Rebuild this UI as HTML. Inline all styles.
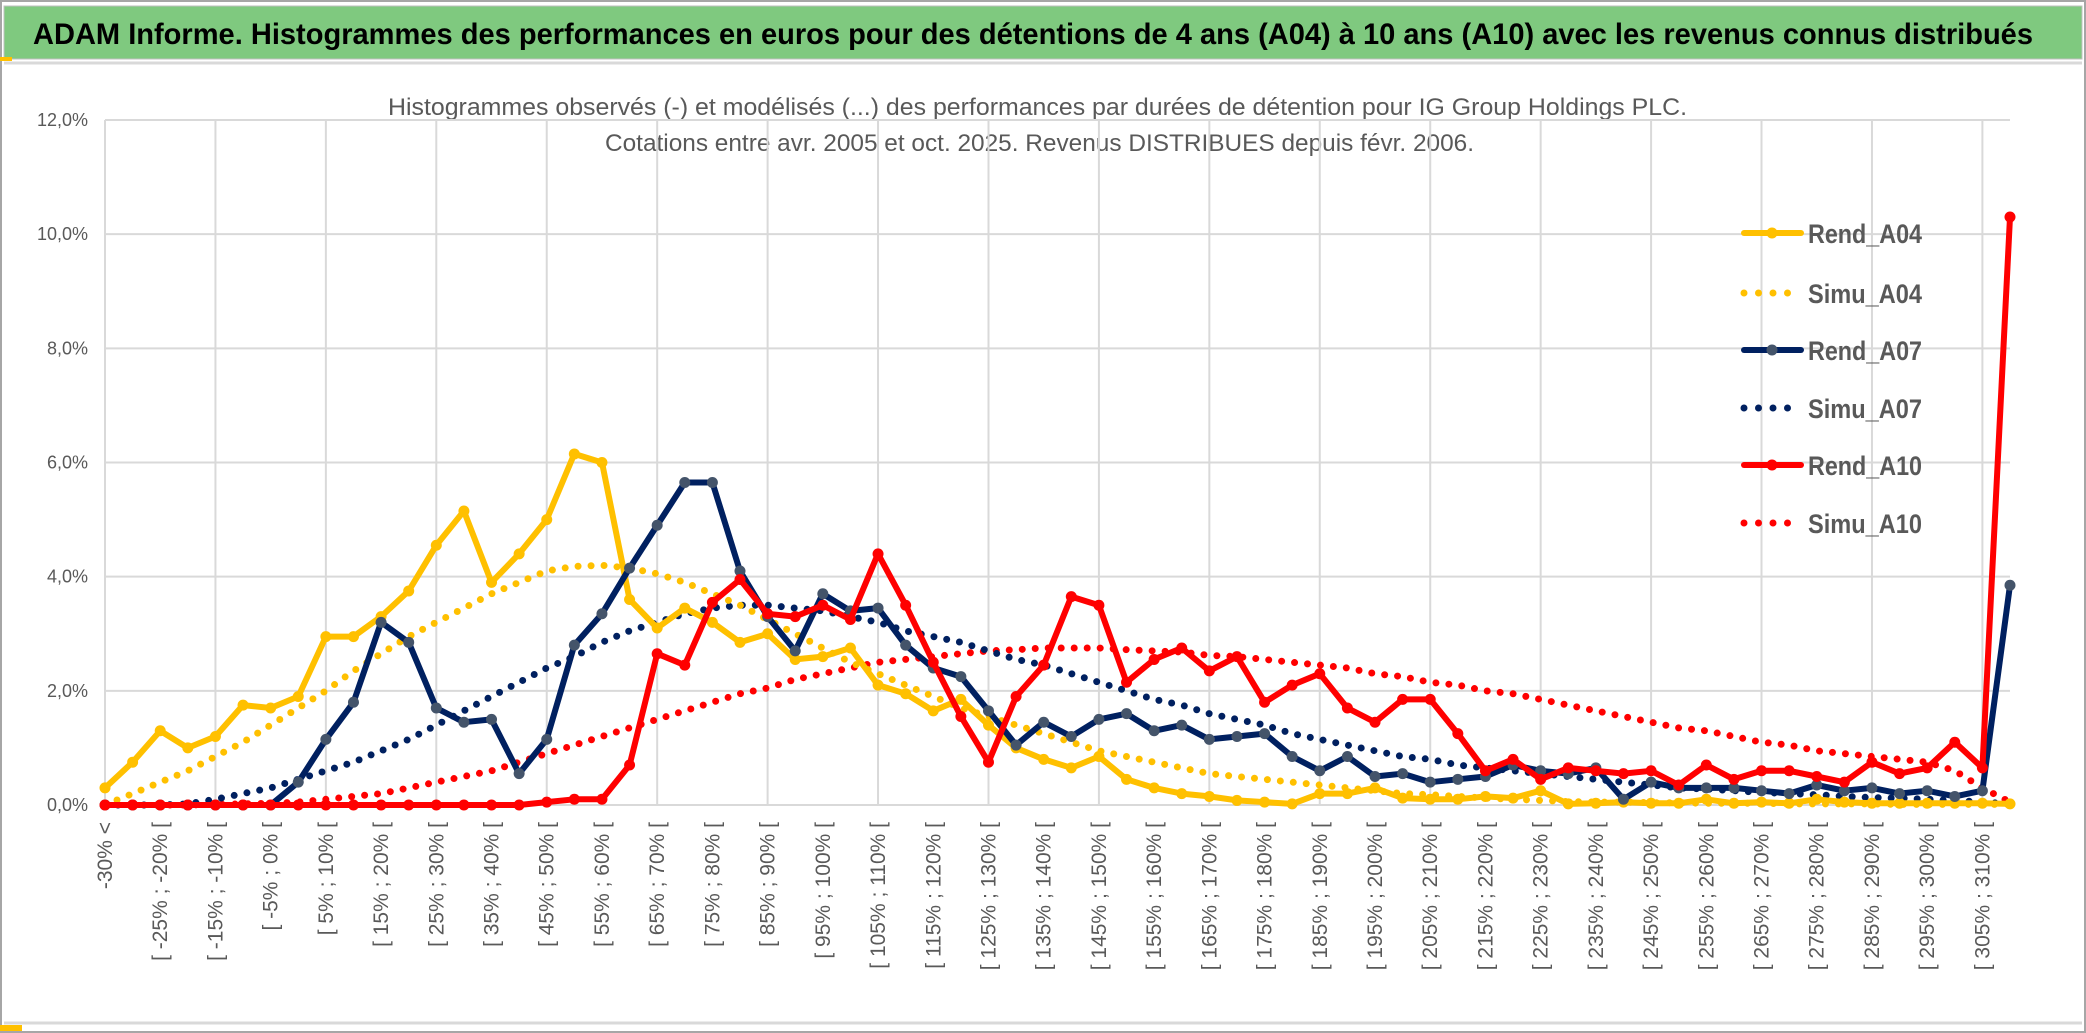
<!DOCTYPE html>
<html><head><meta charset="utf-8"><style>
html,body{margin:0;padding:0;background:#fff;}
svg{display:block;}
</style></head><body>
<svg id="chart" width="2086" height="1033" viewBox="0 0 2086 1033" xmlns="http://www.w3.org/2000/svg" font-family="'Liberation Sans', sans-serif">
  <rect x="0" y="0" width="2086" height="1033" fill="#fff"/>
  <rect x="1" y="1" width="2084" height="1031" fill="none" stroke="#a6a6a6" stroke-width="2"/>
  <rect x="4" y="6" width="2078" height="53" fill="#7fc97f" stroke="#bfbfbf" stroke-width="1"/>
  <rect x="0" y="57" width="12" height="4" fill="#ffc000"/>
  <line x1="4" y1="63" x2="2082" y2="63" stroke="#d9d9d9" stroke-width="3"/>
  <text x="33" y="44" font-size="30" font-weight="bold" fill="#000" textLength="2000" lengthAdjust="spacingAndGlyphs">ADAM Informe. Histogrammes des performances en euros pour des détentions de 4 ans (A04) à 10 ans (A10) avec les revenus connus distribués</text>
  <text x="388" y="115" font-size="24" fill="#595959" textLength="1299" lengthAdjust="spacingAndGlyphs">Histogrammes observés (-) et modélisés (...) des performances par durées de détention pour IG Group Holdings PLC.</text>
  <text x="605" y="151" font-size="24" fill="#595959" textLength="869" lengthAdjust="spacingAndGlyphs">Cotations entre avr. 2005 et oct. 2025. Revenus DISTRIBUES depuis févr. 2006.</text>
  <g id="grid"></g>
  <g id="yaxis"></g>
  <g id="xaxis"></g>
  <g id="series"></g>
  <g id="legend"></g>
  <line x1="4" y1="1023" x2="2082" y2="1023" stroke="#d9d9d9" stroke-width="3"/>
  <rect x="0" y="1025" width="22" height="6" fill="#ffc000"/>
</svg>
<script>
const rendA04 = [0.3,0.75,1.3,1.0,1.2,1.75,1.7,1.9,2.95,2.95,3.3,3.75,4.55,5.15,3.9,4.4,5.0,6.15,6.0,3.6,3.1,3.45,3.2,2.85,3.0,2.55,2.6,2.75,2.1,1.95,1.65,1.85,1.4,1.0,0.8,0.65,0.85,0.45,0.3,0.2,0.15,0.08,0.05,0.02,0.2,0.2,0.3,0.12,0.1,0.1,0.15,0.12,0.25,0.02,0.03,0.05,0.03,0.03,0.1,0.03,0.05,0.03,0.1,0.05,0.03,0.03,0.03,0.03,0.03,0.02];
const simuA04 = [0.0,0.2,0.4,0.6,0.85,1.1,1.4,1.7,2.0,2.35,2.65,2.95,3.2,3.45,3.7,3.9,4.1,4.18,4.2,4.15,4.05,3.9,3.7,3.5,3.25,3.0,2.75,2.5,2.3,2.1,1.9,1.7,1.55,1.4,1.25,1.1,0.95,0.85,0.75,0.65,0.55,0.5,0.45,0.4,0.35,0.3,0.25,0.2,0.18,0.15,0.12,0.1,0.08,0.06,0.05,0.05,0.04,0.04,0.03,0.03,0.03,0.02,0.02,0.02,0.02,0.01,0.01,0.01,0.01,0.01];
const rendA07 = [0,0,0,0,0,0,0,0.4,1.15,1.8,3.2,2.85,1.7,1.45,1.5,0.55,1.15,2.8,3.35,4.15,4.9,5.65,5.65,4.1,3.3,2.7,3.7,3.4,3.45,2.8,2.4,2.25,1.65,1.05,1.45,1.2,1.5,1.6,1.3,1.4,1.15,1.2,1.25,0.85,0.6,0.85,0.5,0.55,0.4,0.45,0.5,0.7,0.6,0.55,0.65,0.1,0.4,0.3,0.3,0.3,0.25,0.2,0.35,0.25,0.3,0.2,0.25,0.15,0.25,3.85];
const simuA07 = [0,0,0,0.02,0.1,0.2,0.3,0.45,0.6,0.75,0.95,1.15,1.4,1.65,1.9,2.15,2.4,2.6,2.85,3.05,3.2,3.35,3.45,3.5,3.5,3.45,3.4,3.3,3.2,3.05,2.95,2.85,2.7,2.55,2.45,2.3,2.15,2.0,1.85,1.75,1.6,1.5,1.4,1.25,1.15,1.05,0.95,0.85,0.8,0.7,0.65,0.6,0.55,0.5,0.45,0.4,0.35,0.3,0.28,0.25,0.22,0.2,0.18,0.15,0.13,0.12,0.1,0.08,0.05,0.02];
const rendA10 = [0,0,0,0,0,0,0,0,0,0,0,0,0,0,0,0,0.05,0.1,0.1,0.7,2.65,2.45,3.55,3.95,3.35,3.3,3.5,3.25,4.4,3.5,2.5,1.55,0.75,1.9,2.45,3.65,3.5,2.15,2.55,2.75,2.35,2.6,1.8,2.1,2.3,1.7,1.45,1.85,1.85,1.25,0.6,0.8,0.45,0.65,0.6,0.55,0.6,0.35,0.7,0.45,0.6,0.6,0.5,0.4,0.75,0.55,0.65,1.1,0.65,10.3];
const simuA10 = [0,0,0,0,0.01,0.02,0.03,0.05,0.1,0.15,0.2,0.3,0.4,0.5,0.6,0.75,0.9,1.05,1.2,1.35,1.5,1.65,1.8,1.95,2.05,2.2,2.3,2.4,2.5,2.55,2.6,2.65,2.7,2.72,2.75,2.75,2.75,2.72,2.7,2.68,2.62,2.6,2.55,2.5,2.45,2.4,2.3,2.25,2.15,2.1,2.0,1.95,1.85,1.75,1.65,1.55,1.45,1.35,1.3,1.2,1.1,1.05,0.95,0.9,0.85,0.8,0.75,0.6,0.3,0.05];
const yTicks = [0,2,4,6,8,10,12];
const seriesNames = ['Rend_A04','Simu_A04','Rend_A07','Simu_A07','Rend_A10','Simu_A10'];

const NS = 'http://www.w3.org/2000/svg';
const N = rendA04.length;
const X0 = 105, X1 = 2010, Y0 = 805, Y12 = 120;
const xs = i => X0 + (X1 - X0) * i / (N - 1);
const ys = v => Y0 - (Y0 - Y12) * v / 12;
function mk(tag, attrs, parent){ const e=document.createElementNS(NS,tag); for(const k in attrs) e.setAttribute(k,attrs[k]); parent.appendChild(e); return e; }
function catLabel(i){
  if(i===0) return '-30% <';
  if(i===N-1) return '>= 310%';
  const a=-30+5*(i-1); return '[ '+a+'% ; '+(a+5)+'% [';
}
const grid=document.getElementById('grid');
yTicks.forEach(t=>{
  const l=mk('line',{x1:X0,x2:X1,y1:ys(t),y2:ys(t),stroke:'#d9d9d9','stroke-width':2},grid);
  
  
});
for(let i=0;i<N-1;i+=4){
  const l=mk('line',{x1:xs(i),x2:xs(i),y1:Y12,y2:Y0,stroke:'#d9d9d9','stroke-width':2},grid);
  
  
}
const yax=document.getElementById('yaxis');
yTicks.forEach(t=>{
  const tx=mk('text',{x:88,y:ys(t)+6,'text-anchor':'end','font-size':18,fill:'#595959'},yax);
  tx.textContent=t.toFixed(1).replace('.',',')+'%';
  
  
});
const xax=document.getElementById('xaxis');
for(let i=0;i<N-1;i+=2){
  const x=xs(i)+7;
  const tx=mk('text',{x:x,y:822,'text-anchor':'end','font-size':21,fill:'#595959',transform:'rotate(-90 '+x+' 822)'},xax);
  tx.textContent=catLabel(i);
  
  
}
const ser=document.getElementById('series');
function drawSeries(vals,color,dotted,marker,name){
  const g=mk('g',{},ser);
  
  
  const pts=vals.map((v,i)=>xs(i).toFixed(1)+','+ys(v).toFixed(1)).join(' ');
  if(dotted){
    mk('polyline',{points:pts,fill:'none',stroke:color,'stroke-width':7,'stroke-linecap':'round','stroke-dasharray':'0 13'},g);
  } else {
    mk('polyline',{points:pts,fill:'none',stroke:color,'stroke-width':6,'stroke-linejoin':'round'},g);
    vals.forEach((v,i)=>{
      const c=mk('circle',{cx:xs(i),cy:ys(v),r:5.5,fill:marker},g);
      
      
    });
  }
}
drawSeries(simuA10,'#ff0000',true,null,'simu-a10-line');
drawSeries(simuA07,'#002060',true,null,'simu-a07-line');
drawSeries(simuA04,'#ffc000',true,null,'simu-a04-line');
drawSeries(rendA04,'#ffc000',false,'#ffc000','rend-a04-line');
drawSeries(rendA07,'#002060',false,'#44546a','rend-a07-line');
drawSeries(rendA10,'#ff0000',false,'#ff0000','rend-a10-line');

const leg=document.getElementById('legend');
const legColors=['#ffc000','#ffc000','#002060','#002060','#ff0000','#ff0000'];
const legMarkers=['#ffc000',null,'#44546a',null,'#ff0000',null];
const legY=[233,293,350,408,465,523];
seriesNames.forEach((nm,k)=>{
  const g=mk('g',{},leg);
  
  
  const y=legY[k];
  if(k%2===0){
    mk('line',{x1:1744,x2:1801,y1:y,y2:y,stroke:legColors[k],'stroke-width':6,'stroke-linecap':'round'},g);
    mk('circle',{cx:1772,cy:y,r:5.5,fill:legMarkers[k]},g);
  } else {
    mk('line',{x1:1744,x2:1801,y1:y,y2:y,stroke:legColors[k],'stroke-width':7,'stroke-linecap':'round','stroke-dasharray':'0 14.5'},g);
  }
  const t=mk('text',{x:1808,y:y+10,'font-size':27,'font-weight':'bold',fill:'#595959',textLength:114,lengthAdjust:'spacingAndGlyphs'},g);
  t.textContent=nm;
});
</script>
</body></html>
